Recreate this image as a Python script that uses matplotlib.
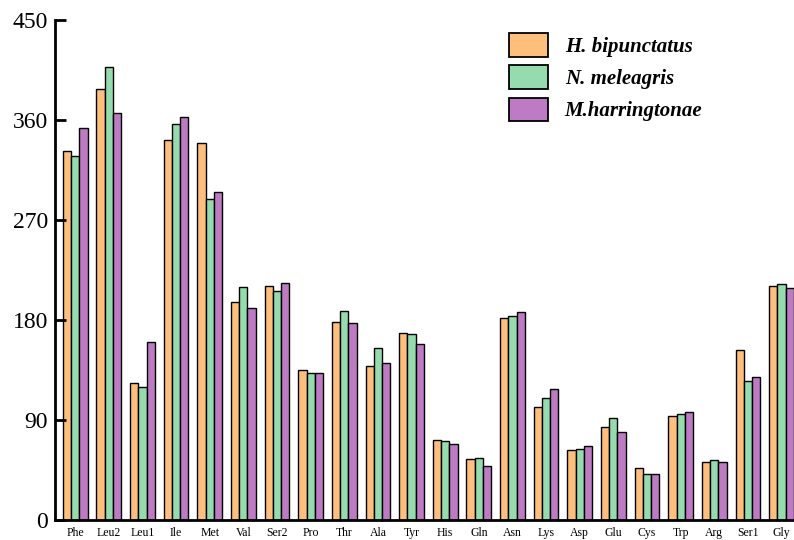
import numpy as np
import matplotlib
matplotlib.use('Agg')
import matplotlib.pyplot as plt

plt.rcParams['font.family'] = ['Liberation Serif', 'DejaVu Serif']

# ==================== 数据 ====================
amino = ['Phe', 'Leu2', 'Leu1', 'Ile', 'Met', 'Val', 'Ser2', 'Pro', 'Thr', 'Ala', 'Tyr',
         'His', 'Gln', 'Asn', 'Lys', 'Asp', 'Glu', 'Cys', 'Trp', 'Arg', 'Ser1', 'Gly']
h_bipunctatus = [332, 388, 123, 342, 339, 196, 211, 135, 178, 139, 168,
                 72, 55, 182, 102, 63, 84, 47, 94, 52, 153, 211]
n_meleagris = [328, 408, 120, 356, 289, 210, 206, 132, 188, 155, 167,
               71, 56, 184, 110, 64, 92, 41, 95, 54, 125, 212]
m_harringtonae = [353, 366, 160, 363, 295, 191, 213, 132, 177, 141, 158,
                  68, 49, 187, 118, 67, 79, 41, 97, 52, 129, 209]
species = ['H. bipunctatus', 'N. meleagris', 'M.harringtonae']
colors = ['#FEBE7C', '#95DBAE', '#BC7BC3']
yticks = [0, 90, 180, 270, 360, 450]

# ==================== 绘图 ====================
fig = plt.figure(figsize=(7.94, 5.4), dpi=100)
ax = fig.add_axes([55 / 794, 20 / 540, 1 - 55 / 794, 500 / 540])

x = np.arange(len(amino))
w = 0.245
for i, (vals, c, lab) in enumerate(zip([h_bipunctatus, n_meleagris, m_harringtonae], colors, species)):
    ax.bar(x + (i - 1) * w, vals, width=w, color=c, edgecolor='black', linewidth=1.0, label=lab)

ax.set_xlim(-0.6, len(amino) - 0.63)
ax.set_ylim(0, 450)
ax.set_yticks(yticks)
ax.set_yticklabels([str(v) for v in yticks], fontsize=17)
ax.set_xticks(x)
ax.set_xticklabels(amino, fontsize=8.5)
ax.tick_params(axis='y', direction='in', length=8, width=2, pad=5)
ax.tick_params(axis='x', length=0, pad=5)
for s in ['top', 'right']:
    ax.spines[s].set_visible(False)
for s in ['left', 'bottom']:
    ax.spines[s].set_linewidth(2)

leg = ax.legend(loc='upper left', bbox_to_anchor=(509 / 794, 1 - 33 / 540),
                bbox_transform=fig.transFigure, frameon=False, borderpad=0, borderaxespad=0,
                handlelength=1.875, handleheight=1.39, labelspacing=0.4, handletextpad=0.8,
                prop={'size': 15, 'weight': 'bold', 'style': 'italic'})
for p in leg.get_patches():
    p.set_linewidth(1.3)

plt.savefig('out.png', dpi=100)
plt.close()
